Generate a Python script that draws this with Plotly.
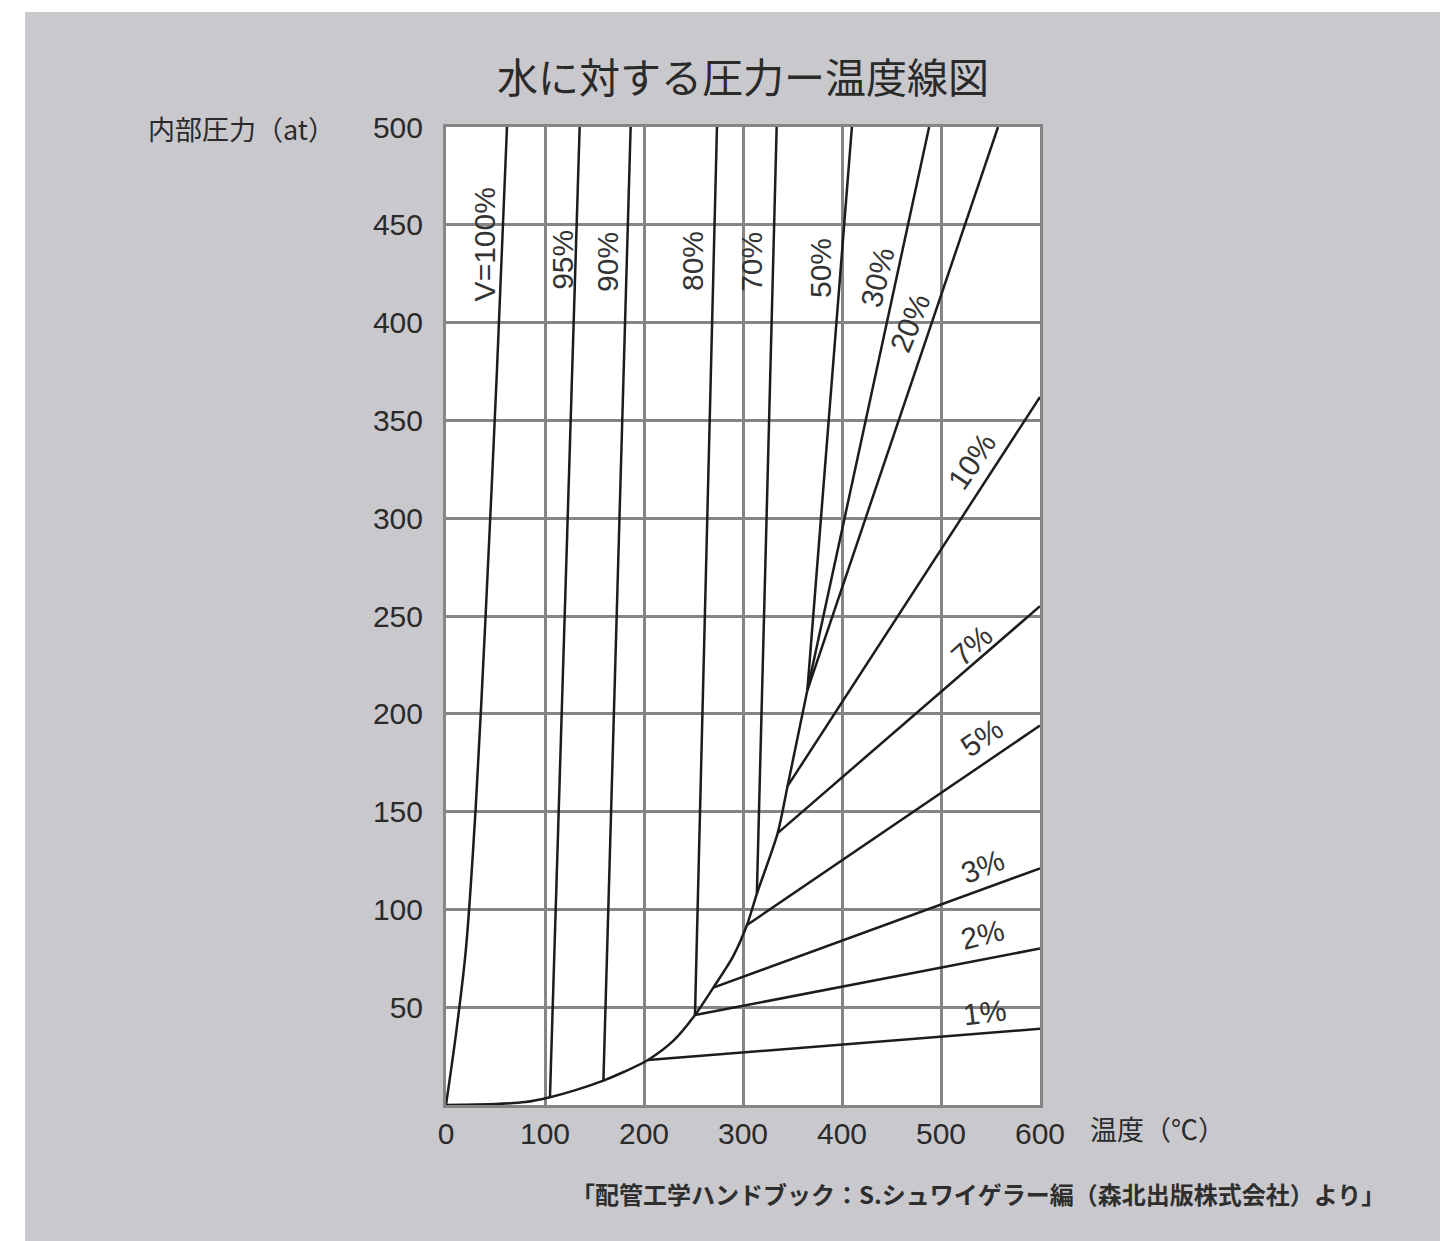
import plotly.graph_objects as go

# ---- data (temperature °C, pressure at) ----
sat_T = [0, 50, 80, 105, 130, 159, 180, 204, 230, 251.5, 270, 290, 304, 314, 335, 345, 365]
sat_P = [0, 0.5, 1.5, 4, 7.5, 12.5, 17, 23, 33, 46, 60, 76, 92, 108, 139, 163, 212]

v100_T = [0, 10, 20, 30, 40, 51.5, 61.6]
v100_P = [0, 36, 79, 152, 250, 376, 500]
v95_T = [105, 135]
v95_P = [4, 500]
v90_T = [159, 186.5]
v90_P = [12.5, 500]
v80_T = [251.5, 273.7]
v80_P = [46, 500]
v70_T = [314, 334]
v70_P = [108, 500]
v50_T = [365, 410]
v50_P = [212, 500]
v30_T = [365, 488]
v30_P = [212, 500]
v20_T = [365, 557.6]
v20_P = [212, 500]
v10_T = [345, 600]
v10_P = [163, 362]
v7_T = [335, 600]
v7_P = [139, 255]
v5_T = [304, 600]
v5_P = [92, 194]
v3_T = [270, 600]
v3_P = [60, 121]
v2_T = [251.5, 600]
v2_P = [46, 80]
v1_T = [204, 600]
v1_P = [23, 39]

label_text = ["V=100%", "95%", "90%", "80%", "70%", "50%", "30%", "20%",
              "10%", "7%", "5%", "3%", "2%", "1%"]
label_T = [38.4, 117, 163.6, 249.5, 309, 379, 436, 469, 531, 531, 541, 542, 542, 544]
label_P = [440, 432, 431, 431.5, 431, 428, 423, 400, 329, 235, 188, 122, 87, 47.5]
label_angle = [-90, -90, -90, -90, -90, -90, -76, -68, -56, -42, -34, -22, -14, -7]

x_ticks = [0, 100, 200, 300, 400, 500, 600]
y_ticks = [50, 100, 150, 200, 250, 300, 350, 400, 450, 500]

curved = [(sat_T, sat_P), (v100_T, v100_P)]
straight = [
    (v95_T, v95_P), (v90_T, v90_P),
    (v80_T, v80_P), (v70_T, v70_P), (v50_T, v50_P), (v30_T, v30_P),
    (v20_T, v20_P), (v10_T, v10_P), (v7_T, v7_P), (v5_T, v5_P),
    (v3_T, v3_P), (v2_T, v2_P), (v1_T, v1_P),
]

W, H = 1454, 1241
L, R, T, B = 446, 1040, 127, 1105   # plot area in pixels


def px(xp):
    return (xp - L) / (R - L)


def py(yp):
    return (B - yp) / (B - T)


GRAY_BG = "#c9c8cd"
GRID = "#858585"
INK = "#1c1c1c"
CJK = "Noto Sans CJK JP"
LAT = "Liberation Sans, Arial, sans-serif"

fig = go.Figure()
for xs, ys in curved:
    fig.add_trace(go.Scatter(x=xs, y=ys, mode="lines",
                             line=dict(color=INK, width=2.5, shape="spline", smoothing=0.8),
                             hoverinfo="skip", showlegend=False))
for xs, ys in straight:
    fig.add_trace(go.Scatter(x=xs, y=ys, mode="lines",
                             line=dict(color=INK, width=2.5),
                             hoverinfo="skip", showlegend=False))

annotations = []
for t, xv, yv, ang in zip(label_text, label_T, label_P, label_angle):
    annotations.append(dict(x=xv, y=yv, xref="x", yref="y", text=t,
                            showarrow=False, textangle=ang,
                            font=dict(family=LAT, size=30, color="#333333"),
                            xanchor="center", yanchor="middle"))

annotations += [
    dict(x=0.5, y=py(75), xref="paper", yref="paper", text="水に対する圧力ー温度線図",
         showarrow=False, font=dict(family=CJK, size=41, color="#2a2a2a"),
         xanchor="center", yanchor="middle"),
    dict(x=px(337), y=py(128), xref="paper", yref="paper", text="内部圧力（at）",
         showarrow=False, font=dict(family=CJK, size=27, color="#2a2a2a"),
         xanchor="right", yanchor="middle"),
    dict(x=px(1088), y=py(1128), xref="paper", yref="paper", text="温度（℃）",
         showarrow=False, font=dict(family=CJK, size=27, color="#2a2a2a"),
         xanchor="left", yanchor="middle"),
    dict(x=px(1387), y=py(1193), xref="paper", yref="paper",
         text="<b>「配管工学ハンドブック：S.シュワイゲラー編（森北出版株式会社）より」</b>",
         showarrow=False, font=dict(family=CJK, size=24, color="#2e2e2e"),
         xanchor="right", yanchor="middle"),
]

shapes = [
    dict(type="rect", xref="paper", yref="paper", x0=-1, x1=2.5, y0=py(12), y1=1.5,
         fillcolor="white", line=dict(width=0), layer="below"),
    dict(type="rect", xref="paper", yref="paper", x0=-1, x1=px(25), y0=-0.5, y1=1.5,
         fillcolor="white", line=dict(width=0), layer="below"),
    dict(type="rect", xref="paper", yref="paper", x0=px(1440), x1=2.5, y0=-0.5, y1=1.5,
         fillcolor="white", line=dict(width=0), layer="below"),
]

fig.update_layout(
    width=W, height=H,
    margin=dict(l=L, r=W - R, t=T, b=H - B, pad=0),
    paper_bgcolor=GRAY_BG, plot_bgcolor="white",
    showlegend=False,
    annotations=annotations, shapes=shapes,
    xaxis=dict(range=[0, 600], tickvals=x_ticks, ticktext=[str(v) for v in x_ticks],
               showgrid=True, gridcolor=GRID, gridwidth=3, zeroline=False,
               showline=True, linecolor=GRID, linewidth=3, mirror=True,
               ticks="", ticklabelstandoff=0,
               tickfont=dict(family=LAT, size=30, color="#2a2a2a"),
               fixedrange=True),
    yaxis=dict(range=[0, 500], tickvals=y_ticks, ticktext=[str(v) for v in y_ticks],
               showgrid=True, gridcolor=GRID, gridwidth=3, zeroline=False,
               showline=True, linecolor=GRID, linewidth=3, mirror=True,
               ticks="", ticklabelstandoff=14,
               tickfont=dict(family=LAT, size=30, color="#2a2a2a"),
               fixedrange=True),
)

fig.write_html("out.html")
